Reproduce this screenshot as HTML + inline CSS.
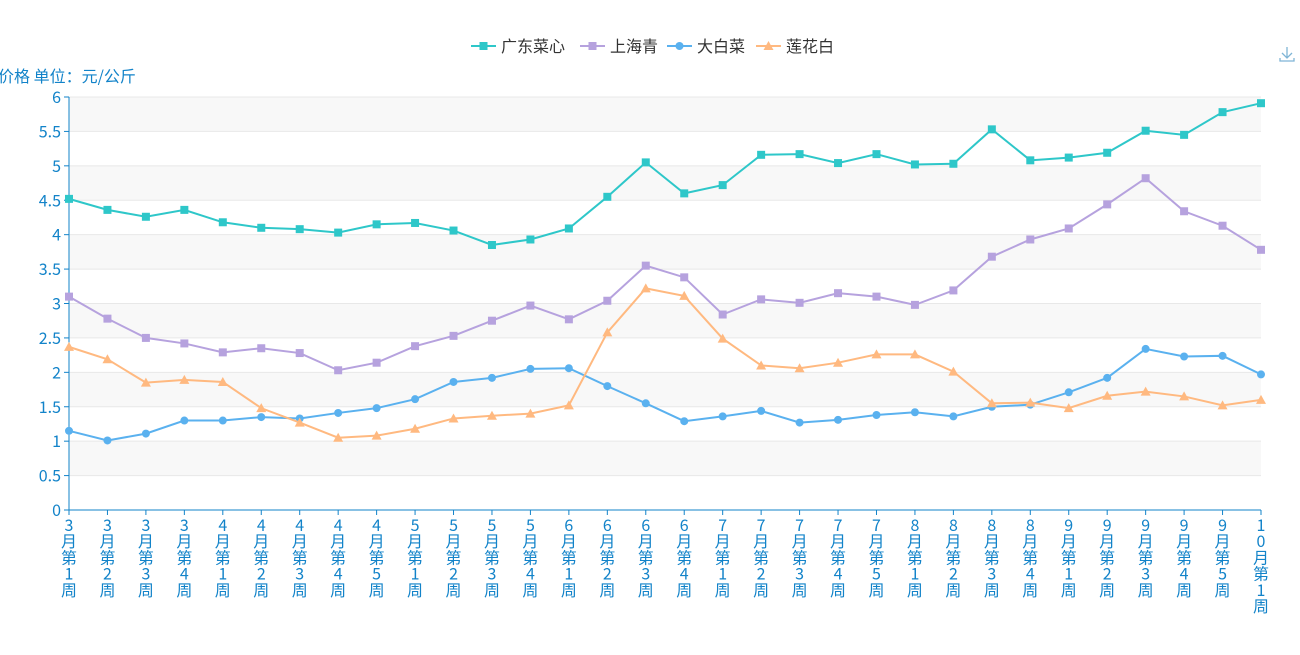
<!DOCTYPE html>
<html><head><meta charset="utf-8"><style>
body{margin:0;background:#fff;width:1300px;height:650px;overflow:hidden;font-family:"Noto Sans CJK SC",sans-serif}
</style></head><body>
<svg id="c" width="1300" height="650" xmlns="http://www.w3.org/2000/svg" font-family="Noto Sans CJK SC, sans-serif"></svg>
<script>
const s=document.getElementById('c');let h='';
const X0=69,X1=1261,Y0=510,Y6=97,n=32,dx=(X1-X0)/31,yu=(Y0-Y6)/6;
const X=i=>X0+i*dx,Y=v=>Y0-v*yu;
const ac='#1283c9';
for(let k=0;k<12;k++){if(k%2==0)h+=`<rect x="${X0}" y="${Y6+k*yu/2}" width="${X1-X0}" height="${yu/2}" fill="#f8f8f8"/>`;}
for(let k=0;k<=12;k++){const y=Y(k/2);h+=`<line x1="${X0}" x2="${X1}" y1="${y}" y2="${y}" stroke="#e8e8e8"/>`;
h+=`<line x1="${X0-5}" x2="${X0}" y1="${y}" y2="${y}" stroke="${ac}"/>`;
h+=`<text x="${X0-8}" y="${y+6}" text-anchor="end" font-size="16" fill="${ac}">${k/2}</text>`;}
h+=`<line x1="${X0}" x2="${X0}" y1="${Y6}" y2="${Y0}" stroke="${ac}"/><line x1="${X0}" x2="${X1}" y1="${Y0}" y2="${Y0}" stroke="${ac}"/>`;
h+=`<text x="-2" y="82" font-size="16" fill="${ac}">价格 单位：元/公斤</text>`;
const labs=[];[[3,4],[4,5],[5,4],[6,4],[7,5],[8,4],[9,5],[10,1]].forEach(([m,c])=>{for(let w=1;w<=c;w++)labs.push(m+'月第'+w+'周')});
labs.forEach((l,i)=>{const x=X(i);h+=`<line x1="${x}" x2="${x}" y1="${Y0}" y2="${Y0+5}" stroke="${ac}"/>`;
[...l].forEach((ch,j)=>{h+=`<text x="${x}" y="${Y0+21+j*16.2}" text-anchor="middle" font-size="16" fill="${ac}">${ch}</text>`})});
const D=[
['广东菜心','#2ec7c9','s',[4.52,4.36,4.26,4.36,4.18,4.10,4.08,4.03,4.15,4.17,4.06,3.85,3.93,4.09,4.55,5.05,4.60,4.72,5.16,5.17,5.04,5.17,5.02,5.03,5.53,5.08,5.12,5.19,5.51,5.45,5.78,5.91]],
['上海青','#b6a2de','s',[3.10,2.78,2.50,2.42,2.29,2.35,2.28,2.03,2.14,2.38,2.53,2.75,2.97,2.77,3.04,3.55,3.38,2.84,3.06,3.01,3.15,3.10,2.98,3.19,3.68,3.93,4.09,4.44,4.82,4.34,4.13,3.78]],
['大白菜','#5ab1ef','c',[1.15,1.01,1.11,1.30,1.30,1.35,1.33,1.41,1.48,1.61,1.86,1.92,2.05,2.06,1.80,1.55,1.29,1.36,1.44,1.27,1.31,1.38,1.42,1.36,1.50,1.53,1.71,1.92,2.34,2.23,2.24,1.97]],
['莲花白','#ffb980','t',[2.37,2.19,1.85,1.89,1.86,1.48,1.27,1.05,1.08,1.18,1.33,1.37,1.40,1.52,2.58,3.22,3.11,2.49,2.10,2.06,2.14,2.26,2.26,2.01,1.55,1.56,1.48,1.66,1.72,1.65,1.52,1.60]]];
const mk=(t,x,y,c)=>t=='s'?`<rect x="${x-4}" y="${y-4}" width="8" height="8" fill="${c}"/>`:t=='c'?`<circle cx="${x}" cy="${y}" r="4" fill="${c}"/>`:`<polygon points="${x},${y-5} ${x+5},${y+4} ${x-5},${y+4}" fill="${c}"/>`;
D.forEach(([nm,c,t,v])=>{h+=`<polyline fill="none" stroke="${c}" stroke-width="2" points="${v.map((a,i)=>X(i)+','+Y(a)).join(' ')}"/>`;v.forEach((a,i)=>h+=mk(t,X(i),Y(a),c))});
const lx=[471,580,667,756];
D.forEach(([nm,c,t],k)=>{const x=lx[k];h+=`<line x1="${x}" x2="${x+25}" y1="46" y2="46" stroke="${c}" stroke-width="2"/>`+mk(t,x+12.5,46,c)+`<text x="${x+30}" y="52" font-size="16" fill="#333">${nm}</text>`});
h+=`<g stroke="#7fb5d6" fill="none" stroke-width="1.3"><path d="M1287 47v10M1282 53l5 5 5-5M1280 58v3h14v-3"/></g>`;
s.innerHTML=h;
</script></body></html>
